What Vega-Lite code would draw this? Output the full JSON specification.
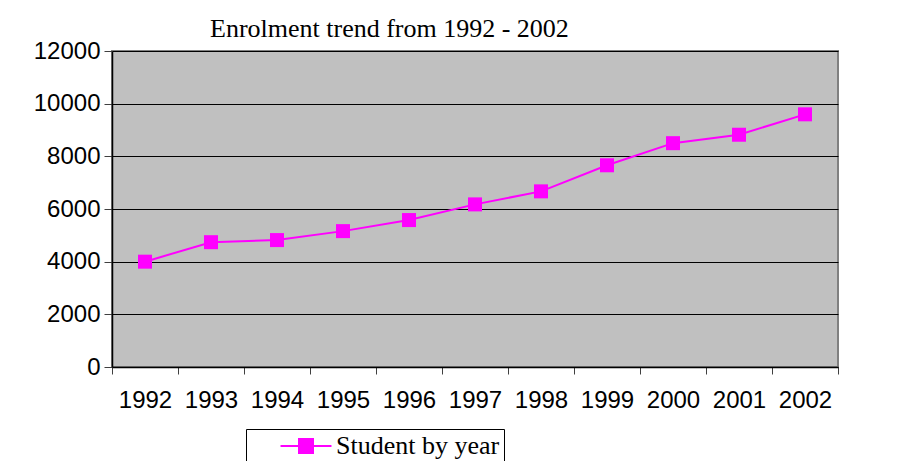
{
  "$schema": "https://vega.github.io/schema/vega-lite/v6.json",
  "width": 726,
  "height": 316,
  "autosize": "none",
  "padding": {"left": 112, "top": 51, "right": 65, "bottom": 94},
  "background": "white",
  "config": {
    "view": {"fill": "#C0C0C0", "stroke": "#808080", "strokeWidth": 2},
    "axis": {"labelFont": "Liberation Sans", "labelFontSize": 24, "labelColor": "black", "domainColor": "black", "tickColor": "#404040", "title": null}
  },
  "title": {
    "text": "Enrolment trend from 1992 - 2002",
    "font": "Liberation Serif",
    "fontSize": 26,
    "fontWeight": "normal",
    "color": "black",
    "anchor": "start",
    "frame": "group",
    "dx": 98,
    "dy": 9,
    "offset": 6
  },
  "data": {
    "values": [
      {"year": "1992", "students": 4000, "series": "Student by year"},
      {"year": "1993", "students": 4740, "series": "Student by year"},
      {"year": "1994", "students": 4820, "series": "Student by year"},
      {"year": "1995", "students": 5160, "series": "Student by year"},
      {"year": "1996", "students": 5580, "series": "Student by year"},
      {"year": "1997", "students": 6175, "series": "Student by year"},
      {"year": "1998", "students": 6670, "series": "Student by year"},
      {"year": "1999", "students": 7660, "series": "Student by year"},
      {"year": "2000", "students": 8500, "series": "Student by year"},
      {"year": "2001", "students": 8820, "series": "Student by year"},
      {"year": "2002", "students": 9595, "series": "Student by year"}
    ]
  },
  "encoding": {
    "x": {
      "field": "year",
      "type": "ordinal",
      "scale": {"type": "band", "paddingInner": 0, "paddingOuter": 0},
      "axis": {"labelAngle": 0, "tickBand": "extent", "tickSize": 7, "labelPadding": 14, "domainWidth": 1.5}
    },
    "y": {
      "field": "students",
      "type": "quantitative",
      "scale": {"domain": [0, 12000], "nice": false},
      "axis": {"values": [0, 2000, 4000, 6000, 8000, 10000, 12000], "format": "d", "tickSize": 8, "labelPadding": 4, "grid": true, "gridColor": "black", "gridWidth": 1, "gridOpacity": 1, "domainWidth": 1.5}
    },
    "color": {
      "field": "series",
      "type": "nominal",
      "scale": {"domain": ["Student by year"], "range": ["#FF00FF"]},
      "legend": {
        "orient": "none",
        "legendX": 134,
        "legendY": 378,
        "title": null,
        "strokeColor": "black",
        "fillColor": "white",
        "padding": 4,
        "labelFont": "Liberation Serif",
        "labelFontSize": 26,
        "labelColor": "black",
        "labelLimit": 0,
        "symbolType": "M-3.64,0H3.64M-1,-1H1V1H-1Z",
        "symbolSize": 196,
        "symbolStrokeWidth": 2,
        "symbolOffset": 43,
        "labelOffset": 17,
        "encode": {
          "symbols": {"update": {"fill": {"value": "#FF00FF"}, "stroke": {"value": "#FF00FF"}, "strokeWidth": {"value": 2}, "opacity": {"value": 1}, "fillOpacity": {"value": 1}}}
        }
      }
    }
  },
  "layer": [
    {"mark": {"type": "line", "strokeWidth": 2}},
    {"mark": {"type": "square", "size": 196, "filled": true, "opacity": 1}}
  ]
}
